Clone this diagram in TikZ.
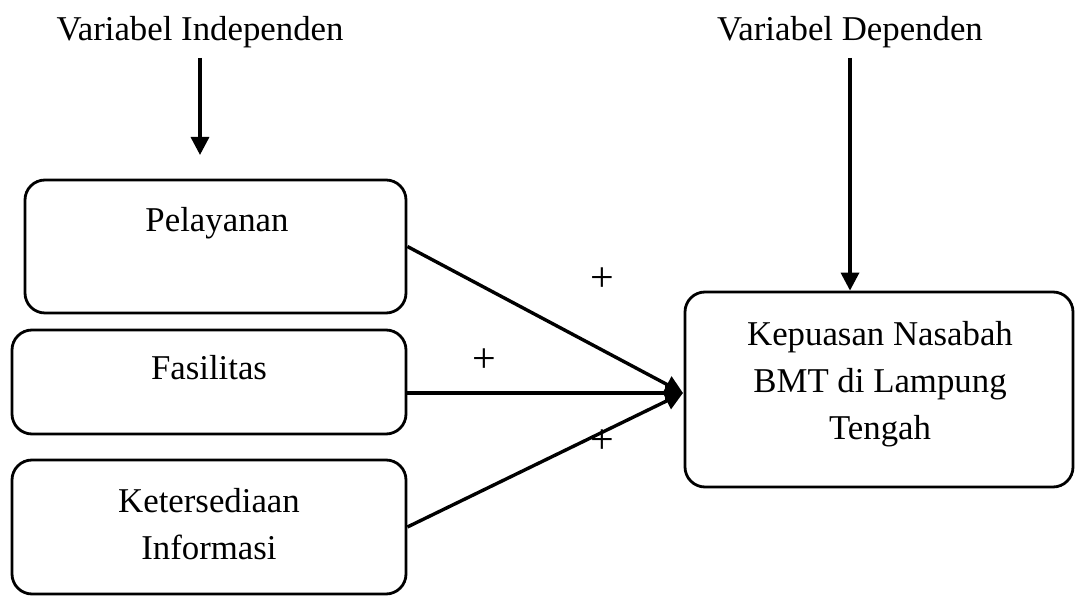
\documentclass[tikz,border=0pt]{standalone}
\usepackage{fontspec}
\setmainfont{Liberation Serif}
\usetikzlibrary{arrows.meta}

\begin{document}
\begin{tikzpicture}[x=0.5pt,y=-0.5pt,
    varbox/.style={draw, rounded corners=10pt, line width=1.4pt, inner sep=0pt},
    lbl/.style={anchor=base, inner sep=0pt, align=center, font=\fontsize{17.4}{23.5}\selectfont},
    plus/.style={inner sep=0pt, font=\fontsize{21}{24}\selectfont},
    arr/.style={line width=1.7pt, -{Triangle[length=9pt,width=9pt]}}]
    \useasboundingbox (0,0) rectangle (1076,597);
    % judul variabel
    \node [lbl] (indep) at (200,41) {Variabel Independen};
    \node [lbl] (dep) at (850,41) {Variabel Dependen};
    % kotak variabel
    \node [varbox, minimum width=190.5pt, minimum height=66.5pt] (pel) at (215.5,246.5) {};
    \node [varbox, minimum width=197pt, minimum height=52pt] (fas) at (209,382) {};
    \node [varbox, minimum width=197pt, minimum height=67pt] (ket) at (209,527) {};
    \node [varbox, minimum width=194pt, minimum height=97.5pt] (kep) at (879,389.5) {};
    \node [lbl] (peltxt) at (217,232) {Pelayanan};
    \node [lbl] (fastxt) at (209,380) {Fasilitas};
    \node [lbl] (kettxt) at (209,560) {Ketersediaan\\Informasi};
    \node [lbl] (keptxt) at (880,440) {Kepuasan Nasabah\\BMT di Lampung\\Tengah};
    % panah
    \coordinate (hub) at (683,393);
    \coordinate (independ) at (200,155);
    \draw [arr, shorten <=4.5pt] (indep.south) -- (independ);
    \draw [arr, shorten <=4.5pt] (dep.south) -- (dep.south |- kep.north);
    \draw [arr] (pel.east) -- (hub);
    \draw [arr] (fas.east |- hub) -- (hub);
    \draw [arr] (ket.east) -- (hub);
    \node [plus] (plus1) at (602,280) {+};
    \node [plus] (plus2) at (484,361) {+};
    \node [plus] (plus3) at (602,442) {+};
\end{tikzpicture}
\end{document}
